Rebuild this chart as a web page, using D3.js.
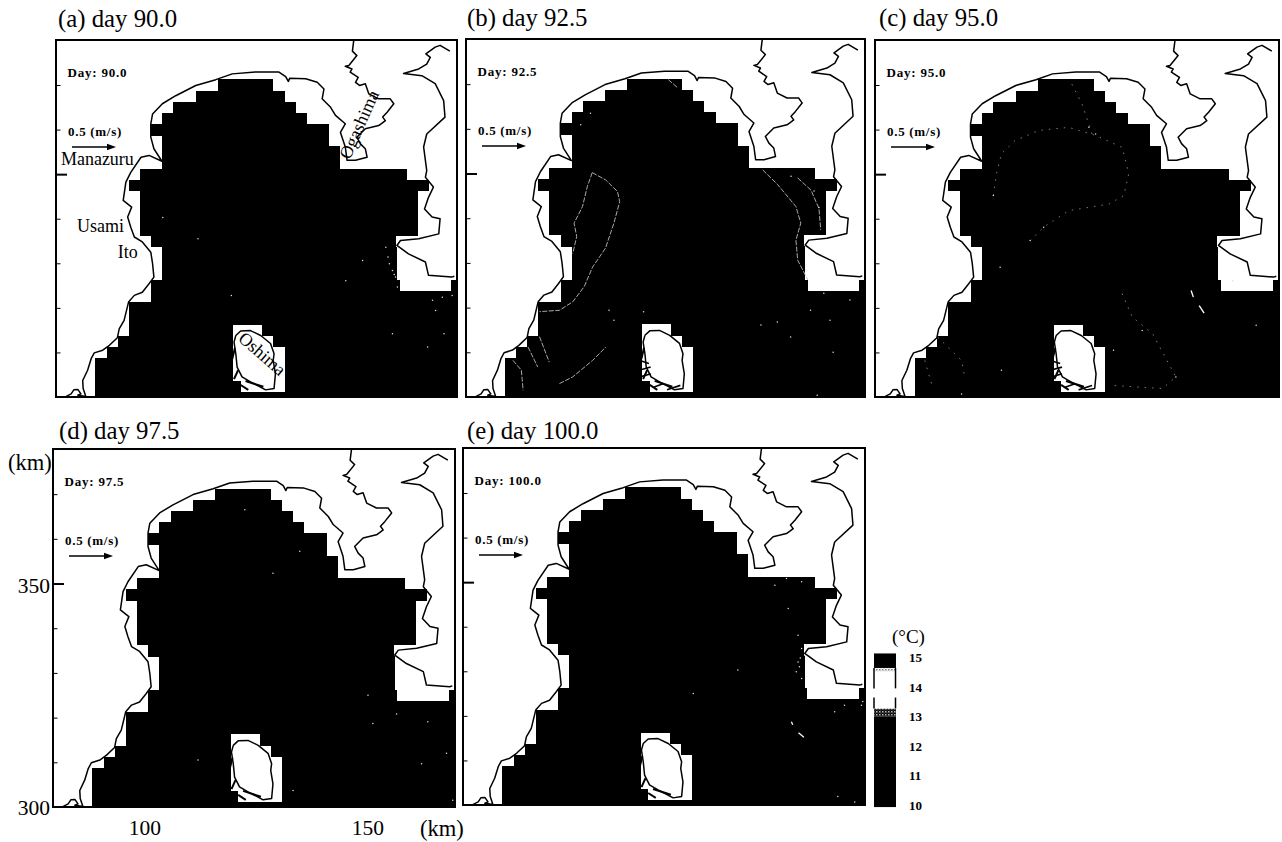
<!DOCTYPE html>
<html><head><meta charset="utf-8">
<style>html,body{margin:0;padding:0;background:#fff}svg{display:block}text{font-family:"Liberation Serif",serif;fill:#000}</style>
<script src="https://cdn.jsdelivr.net/npm/d3@7"></script></head><body><svg id="c" width="1282" height="842"></svg>
<script>
const panelIds=["a","b","c","d","e"];
const panelDays=["90.0","92.5","95.0","97.5","100.0"];
const xDomain=[79.4,169.5], yDomain=[300,380.1];
const yTicksKm=[310,320,330,340,350,360,370];
const xLabels=[100,150], yLabels=[300,350];
// water cells: [north km, south km, west km, east km]
const waterRows=[
[371.25,368.75,115.75,128.25],[368.75,366.25,110.75,130.75],[366.25,363.75,105.75,133.25],
[363.75,361.25,103.25,135.75],[361.25,358.75,100.75,140.75],[358.75,356.25,103.25,140.75],
[356.25,351.25,103.25,143.25],[351.25,348.75,98.25,158.25],[348.75,346.25,95.75,163.25],
[346.25,336.25,98.25,160.75],[336.25,333.75,100.75,155.75],[333.75,326.25,103.25,156],
[326.25,323.75,100.75,156.6],[326.25,323.75,168.25,169.5],[323.75,321.25,100.75,169.5],
[321.25,313.75,95.75,169.5],[313.75,311.25,93.25,169.5],[311.25,308.75,90.75,169.5],
[308.75,300,88.25,169.5]];
// land cells around Oshima
const islandRows=[[316.25,313.75,119.25,125.75],[313.75,311.25,119.25,128.25],[311.25,303.75,119.25,130.75],[303.75,301.25,120.9,130.75]];
const coastMain=[[81.6,300.1],[82.8,300.7],[83.4,301.6],[84.3,301.7],[85,300.7],[84.3,300.4],[86.1,300.1],[85.5,301.9],[85.4,303.7],[86.5,306],[87.3,308.6],[88,309.9],[89.9,310.5],[91.4,311.6],[93.2,313.3],[93.6,315.3],[94.7,317.2],[95.7,321.3],[97,322.8],[98.8,323.5],[100.3,325.4],[101.4,326.9],[101.1,329.9],[100.7,332.5],[98.8,334.8],[97,335.9],[96.2,338.1],[95.5,340.4],[96.4,342.6],[94.5,344.1],[95.1,348.2],[96.2,350.4],[98.5,353.8],[100.3,354.2],[103.2,352.9],[101.4,355.7],[100.7,358.3],[100.7,361.3],[101.1,363.5],[103.3,365.8],[106.3,367.6],[110.8,369.9],[115.3,371.2],[119,372.5],[124.2,372.9],[129.5,372.9],[131,371.9],[131.6,370.8],[131.9,371.5],[135.5,371.4],[138.1,370.6],[139.6,369.1],[139.2,366.9],[141.1,365],[142.2,363.2],[144.4,361.3],[143.3,359.4],[144.4,356.1],[144.8,353.1],[146.7,353.1],[149.3,353.8],[148.9,355.7],[147.8,356.8],[147,358.3],[148.9,360.2],[151.9,360.9],[152.6,361.4],[153.4,362],[152.8,362.8],[153.8,363.9],[155.3,365.8],[154.5,366.9],[151.9,366.9],[149.7,368],[148.9,370.3],[147.6,369.9],[146.7,370.6],[147.3,371.7],[145.5,372.9],[145.9,373.6],[144.4,374.2],[145.2,374.4],[147,376.6],[146,377.6],[146.3,380]];
const coastBoso=[[168.9,327.1],[168.3,326.9],[163.1,327.3],[162.4,330.3],[158.6,332.1],[156,334],[156.8,335.1],[160.9,335.5],[165.4,336.6],[165.7,340],[163.9,340.4],[162.2,342.2],[163.1,344.8],[164.2,347.1],[162.4,349.3],[162.7,350.8],[162,356.1],[162.7,359],[166.8,362.8],[166.5,366.5],[164.6,370.3],[161.6,372.1],[157.5,372.6],[160.9,373.6],[162.7,374.7],[163.5,376.2],[162.5,377],[164.6,378.5],[165.7,378.9],[167.9,377.6]];
const coastOshima=[[119.8,313.8],[120.9,314.8],[123.1,314.9],[125.4,313.8],[127.6,312],[128.4,309.7],[128.2,308.2],[128.7,305.2],[128.4,301.9],[126.5,301.6],[123.1,303.4],[121.2,304.5],[120.1,306.7],[119.8,309.7],[119.4,312.3],[119.8,313.8]];
const oshimaFringe=[[[120.3,306],[119.4,304]],[[122,303.6],[126,302.3]],[[119.6,311],[119,308.5]],[[120.9,302.7],[122.6,301.6]]];
const oshimaFlecks=[[[118.5,308.2],[120.7,307.5]],[[118.5,306],[121.1,306.7]],[[118.8,304.5],[121.1,305.2]],[[121.8,302.2],[124,303]],[[124.8,301.6],[127.8,302.6]]];
// faint isotherms
const isothermsB=[
[[107.9,350.2],[106.8,347.1],[105.7,342.6],[103.8,338.9],[104.4,335.9],[103.5,332.1]],
[[107.9,350.2],[110.9,348.6],[113.6,346],[114.1,343.7],[112.8,338.9],[110.9,333.3],[108,329.1],[106.1,324.7],[103.5,321.3],[100.5,319.4],[96,319.1]],
[[146.4,350.8],[149.8,347.5],[153.9,342.6],[155,338.9],[153.9,335.1],[154.3,330.6],[156.6,326.2]],
[[154.3,349],[157.3,346.3],[159.1,342.2],[159.5,337.4]],
[[125.1,371],[127.3,369.1]],
[[90,308.2],[91.9,306],[92.3,301.5]],[[93.4,311.2],[95.6,306.7]],[[96,313.5],[98.2,307.8]],
[[100.5,303],[103.5,304.5],[108,308.2],[111,311.2]]];
const isothermsC=[
[[105.8,345.2],[106.5,350.1],[107.6,354.6],[110.6,357.5],[115.9,359.8],[122.6,360.5],[128.6,358.7],[134.5,356],[136,350.1],[134.9,345.2],[131.6,343.3],[122.6,341.8],[117,338.1],[114,335.1]],
[[123.3,370.2],[125.6,365.7],[127.8,359]],
[[134.5,323.2],[136.8,317.9],[141.3,314.2],[146.5,304.5],[143.5,301.9],[132.3,302.6]],
[[90.5,308.2],[92,303]],[[93.4,313.4],[98.7,308.2],[99.4,304.5]]];
const brightC=[[[149.9,323.9],[150.4,322.4]],[[151.7,320.5],[152.8,318.8]]];
const brightE=[[[153,318.7],[153.3,318]],[[154.6,316.2],[155.8,315.2]]];
const specks={
a:[[153.5,333.6],[154.3,329.9],[155,328.4],[155.7,326.9],[156.1,324.7],[154,331.4],[155.4,327.5],[148.3,330.6],[144.5,326.1],[164,321.7],[166.2,322.4],[168.4,322.8],[164.7,319.4],[162.9,311.2],[166.6,314.2],[155,314.2],[118.8,322.8],[111.3,335.5],[103.4,340.3]],
b:[[111.7,319.4],[112.8,317.2],[119.5,319.1],[146,316.1],[149.7,316.8],[152.7,313.4],[157.2,319.4],[161.6,317.2],[166.1,321.7],[160.2,323.2],[162.3,310],[158.7,300.4],[105.3,360.9],[107.5,363.5],[158,346.1],[159.1,342.4],[152.8,349.4]],
c:[[128.6,359],[127.1,360.5],[117,338.1],[114,335.1],[107.3,329.1],[146.5,304.5],[139,314.9],[132.6,310.5],[159.2,326.1],[164.4,316.1],[107.6,306],[98.7,300.7],[105.8,345.2]],
d:[[150,325],[156.4,320.8],[151.1,318.7],[163.4,319.1],[167.6,312],[162,309.7],[169,301.5],[133.2,303.7],[111.9,310.5],[128.7,352.3],[134.7,357.2],[122.4,366.5]],
e:[[154.5,338.1],[155.3,335.1],[154.5,332.1],[154.1,329.9],[155.3,328.4],[156,333.6],[156.4,335.9],[154.8,331],[155,333],[151.9,350.8],[149.3,349.3],[155.3,350.1],[152.3,344.1],[141,330.3],[131,325],[163.4,301.9],[167.2,300.7],[168.7,322.4],[162.7,320.9],[164.9,322.4],[169,323.2]]};
const isothermSets={b:isothermsB,c:isothermsC};
const brightSets={c:brightC,e:brightE};
const arrowSpeed=0.5, arrowLabel="0.5 (m/s)";
const cbarEdges=[9.93,12.98,13.26,14.5,14.63,15.12];
const cbarFills=["#000","url(#stip)","#fff","url(#stip2)","#000"];
const cbarTicks=[10,11,12,13,14,15];

const frames={a:[56,40,401,357],b:[466,39,399,358],c:[875,40,404,357],d:[53,449,402,358],e:[463,448,402,357]};
const titleAt={a:[58,27],b:[467,26],c:[879,26],d:[59,439],e:[467,439]};

const svg=d3.select("#c");
const defs=svg.append("defs");
[["stip","#000"],["stip2","#fff"]].forEach(([id,bg])=>{
  const p=defs.append("pattern").attr("id",id).attr("width",3).attr("height",3).attr("patternUnits","userSpaceOnUse");
  p.append("rect").attr("width",3).attr("height",3).attr("fill",bg);
  p.append("rect").attr("width",1.5).attr("height",1.5).attr("fill",id==="stip"?"#bbb":"#777");
  p.append("rect").attr("x",1.5).attr("y",1.5).attr("width",1).attr("height",1).attr("fill",id==="stip"?"#888":"#aaa");
});
const line=(x,y)=>d3.line().x(d=>x(d[0])).y(d=>y(d[1]));

panelIds.forEach((id,i)=>{
  const [fx,fy,fw,fh]=frames[id];
  const x=d3.scaleLinear().domain(xDomain).range([0,fw]);
  const y=d3.scaleLinear().domain(yDomain).range([fh,0]);
  svg.append("text").attr("x",titleAt[id][0]).attr("y",titleAt[id][1]).attr("font-size",24.8).text(`(${id}) day ${panelDays[i]}`);
  const g=svg.append("g").attr("transform",`translate(${fx},${fy})`);
  defs.append("clipPath").attr("id","clip"+id).append("rect").attr("width",fw).attr("height",fh);
  const inner=g.append("g").attr("clip-path",`url(#clip${id})`);
  const cell=(sel,rows,fill)=>sel.attr("shape-rendering","crispEdges").selectAll(null).data(rows).join("rect")
    .attr("x",d=>x(d[2])).attr("y",d=>y(d[0])).attr("width",d=>x(d[3])-x(d[2])).attr("height",d=>y(d[1])-y(d[0])+.5).attr("fill",fill);
  cell(inner.append("g"),waterRows,"#000");
  cell(inner.append("g"),islandRows,"#fff");
  const L=line(x,y);
  (isothermSets[id]||[]).forEach(c=>inner.append("path").attr("d",L(c)).attr("fill","none").attr("stroke",id==="b"?"#bbb":"#888").attr("stroke-width",.9).attr("stroke-dasharray",id==="b"?"5 1.5":"1.5 6"));
  (brightSets[id]||[]).forEach(c=>inner.append("path").attr("d",L(c)).attr("fill","none").attr("stroke","#fff").attr("stroke-width",1.3));
  inner.append("g").selectAll("circle").data(specks[id]).join("circle").attr("cx",d=>x(d[0])).attr("cy",d=>y(d[1])).attr("r",.75).attr("fill","#ddd");
  [coastMain,coastBoso,coastOshima].forEach(c=>inner.append("path").attr("d",L(c)).attr("fill","none").attr("stroke","#000").attr("stroke-width",1.5).attr("stroke-linejoin","round"));
  oshimaFringe.forEach(c=>inner.append("path").attr("d",L(c)).attr("fill","none").attr("stroke","#000").attr("stroke-width",2));
  if(id==="b"||id==="c") oshimaFlecks.forEach(c=>inner.append("path").attr("d",L(c)).attr("fill","none").attr("stroke","#000").attr("stroke-width",1.6));
  // axis ticks
  const ax=d3.axisLeft(y).tickValues(yTicksKm).tickSizeInner(-5).tickSizeOuter(0).tickFormat("");
  const ag=g.append("g").call(ax);
  ag.select(".domain").remove();
  ag.selectAll(".tick line").attr("stroke","#000").attr("stroke-width",d=>d===350?2:1).attr("x2",d=>d===350?11:4.5);
  g.append("rect").attr("width",fw).attr("height",fh).attr("fill","none").attr("stroke","#000").attr("stroke-width",2);
  g.append("text").attr("x",11.5).attr("y",37).attr("font-size",13).attr("letter-spacing",.8).attr("font-weight","bold").text("Day: "+panelDays[i]);
  g.append("text").attr("x",12).attr("y",96).attr("font-size",13).attr("letter-spacing",.7).attr("font-weight","bold").text(arrowLabel);
  const s=d3.scaleLinear().domain([0,0.5]).range([0,44]);
  g.append("line").attr("x1",16).attr("x2",16+s(arrowSpeed)-6).attr("y1",107).attr("y2",107).attr("stroke","#000").attr("stroke-width",1.4);
  g.append("path").attr("d",`M${16+s(arrowSpeed)},107l-9,-3.2v6.4z`).attr("fill","#000");
  if(id==="a"){
    const lab=(t,kx,ky,rot)=>g.append("text").attr("font-size",18)
      .attr("transform",`translate(${x(kx)},${y(ky)})`+(rot?` rotate(${rot})`:"")).text(t);
    lab("Manazuru",80.5,352);lab("Usami",84.1,337);lab("Ito",93.3,331.2);
    lab("Ogashima",145.4,353.1,-66);lab("Oshima",120.1,312.8,41);
  }
  if(id==="d"){
    svg.append("g").selectAll("text").data(yLabels).join("text").attr("text-anchor","end").attr("font-size",21.5)
      .attr("x",50).attr("y",d=>fy+y(d)+(d===300?8:9)).text(d=>d);
    svg.append("g").selectAll("text").data(xLabels).join("text").attr("text-anchor","middle").attr("font-size",21.5)
      .attr("x",d=>fx+x(d)).attr("y",835).text(d=>d);
    svg.append("text").attr("x",8).attr("y",470).attr("font-size",22.5).text("(km)");
    svg.append("text").attr("x",420).attr("y",836).attr("font-size",22.5).text("(km)");
  }
});

// colour bar
const cy=d3.scaleLinear().domain([10,15]).range([805,657]);
const cb=svg.append("g");
cbarFills.forEach((f,i)=>cb.append("rect").attr("x",874).attr("width",22).attr("y",cy(cbarEdges[i+1])).attr("height",cy(cbarEdges[i])-cy(cbarEdges[i+1])).attr("fill",f));
[[13.26,13.63],[13.94,14.63]].forEach(([a,b])=>[874,895.5].forEach(px=>cb.append("line").attr("x1",px).attr("x2",px).attr("y1",cy(a)).attr("y2",cy(b)).attr("stroke","#000").attr("stroke-width",1.5)));
cb.selectAll("text").data(cbarTicks).join("text").attr("x",909).attr("y",d=>cy(d)+5).attr("font-size",13).attr("font-weight","bold").text(d=>d);
svg.append("text").attr("x",892).attr("y",643).attr("font-size",19).text("(°C)");
</script></body></html>
